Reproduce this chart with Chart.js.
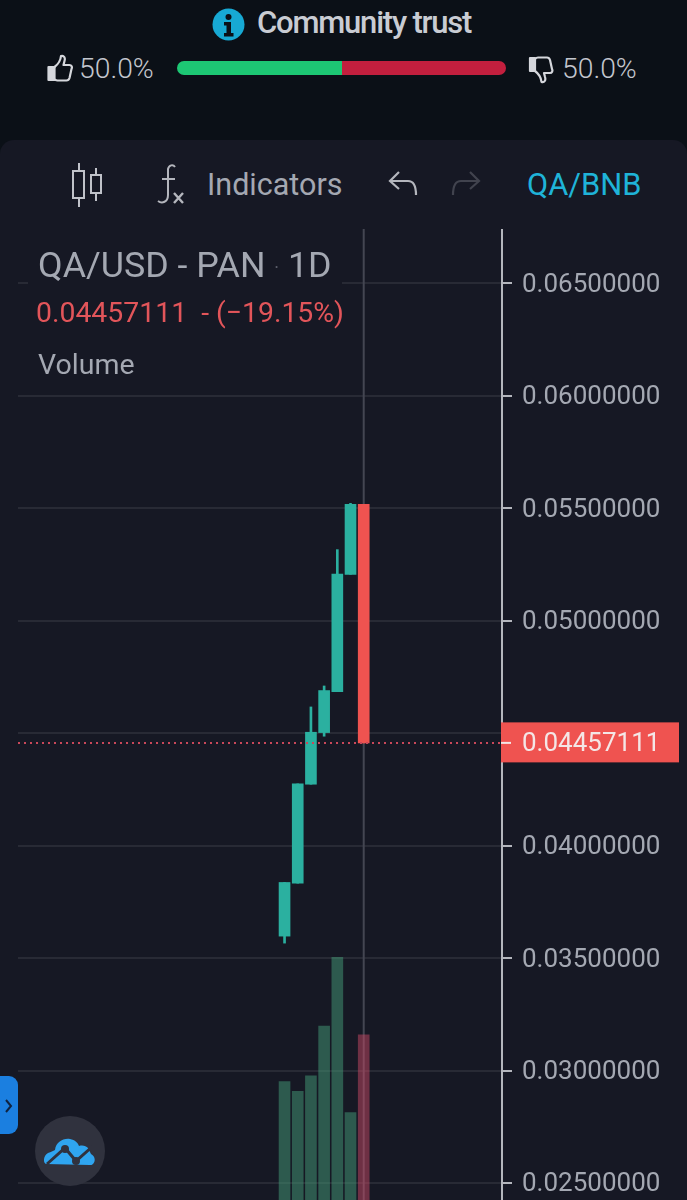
<!DOCTYPE html>
<html>
<head>
<meta charset="utf-8">
<title>QA/USD - PAN</title>
<script src="https://cdn.jsdelivr.net/npm/chart.js@4/dist/chart.umd.min.js"></script>
<style>
  html, body { margin: 0; padding: 0; background: #0b1017; }
  body { position: relative; width: 687px; height: 1200px; overflow: hidden; font-family: Roboto, sans-serif; }
  .abs { position: absolute; white-space: nowrap; }
  .pct { font-size: 28.3px; font-weight: 300; color: #c4c7ce; line-height: 30px; }
  #panel { left: 0; top: 140px; width: 687px; height: 1060px; background: #161824; border-radius: 14px 14px 0 0; }
  #wrap { left: 0; top: 229px; width: 687px; height: 971px; }
  #tv-title { left: 28px; top: 246px; padding: 0 10px; height: 38px; line-height: 38px; font-size: 35.800px; color: #a4a8b2; background: #161824; }
  #tv-price { left: 36px; top: 297px; font-size: 28.400px; line-height: 32px; color: #e2555a; }
  #tv-vol { left: 38px; top: 349px; font-size: 28.500px; line-height: 32px; color: #a4a8b2; }
</style>
</head>
<body>
<div class="abs" id="panel"></div>
<div class="abs" id="wrap"><canvas id="cv"></canvas></div>

<!-- Community trust -->
<svg class="abs" style="left:212px;top:8px" width="33" height="33" viewBox="0 0 33 33">
  <circle cx="16.5" cy="16.5" r="16" fill="#17a9d4"/>
  <circle cx="16.5" cy="9" r="3" fill="#0b1017"/>
  <path d="M12 14h7v11h2.5v3.5h-9.500V25h2.500v-7.500H12z" fill="#0b1017"/>
</svg>
<div class="abs" style="left:257px;top:4px;font-size:31px;line-height:38px;font-weight:500;letter-spacing:-1.2px;color:#c9ccd3">Community trust</div>

<svg class="abs" style="left:47px;top:54px" width="27" height="28" viewBox="0 0 27 28" fill="none" stroke="#d5d7dc" stroke-width="2.200" stroke-linejoin="round">
  <path d="M1.500 13h6v13h-6z" fill="#d5d7dc"/>
  <path d="M7.500 13c4-3 6-6 6.500-11 3-1 4.500 2 3.500 5l-1 4h6c2 0 3 2 2 4l-2 9c-.5 1.500-1.500 2.500-3 2.500h-9c-1.500 0-2-.5-3-1"/>
</svg>
<div class="abs pct" style="left:79px;top:54px">50.0%</div>
<div class="abs" style="left:177px;top:61px;width:165px;height:14px;background:#1dc774;border-radius:7px 0 0 7px"></div>
<div class="abs" style="left:342px;top:61px;width:164px;height:14px;background:#c31f3e;border-radius:0 7px 7px 0"></div>
<svg class="abs" style="left:528px;top:56px" width="27" height="28" viewBox="0 0 27 28" fill="none" stroke="#d5d7dc" stroke-width="2.200" stroke-linejoin="round">
  <path d="M2 2h5v13H2z" fill="#d5d7dc"/>
  <path d="M7 3c1-1 2-1.500 3-1.500h9c1.500 0 2.500 1 3 2.500l2 9c1 2 0 4-2 4h-6l1 4c1 3-.5 6-3.500 5-.5-5-2.500-8-6.500-11"/>
</svg>
<div class="abs pct" style="left:562px;top:54px">50.0%</div>

<!-- toolbar -->
<svg class="abs" style="left:70px;top:162px" width="34" height="46" viewBox="0 0 34 46" fill="none" stroke="#c0c2c9" stroke-width="2">
  <path d="M9 1v8M9 36v9M26 6v7M26 31v8"/>
  <rect x="3" y="9" width="11" height="27"/>
  <rect x="21" y="13" width="10" height="18"/>
</svg>
<svg class="abs" style="left:155px;top:162px" width="34" height="46" viewBox="0 0 34 46" fill="none" stroke="#b4b6bd" stroke-width="2">
  <path d="M20 5c-2-3-6-2-7 2v26c0 7-6 9-10 6M7 17h13"/>
  <path d="M19 31l9 10M28 31l-9 10" stroke-width="2.400"/>
</svg>
<div class="abs" style="left:207px;top:167px;font-size:30.500px;line-height:36px;color:#a4a8b2">Indicators</div>
<svg class="abs" style="left:387px;top:170px" width="34" height="28" viewBox="0 0 34 28" fill="none" stroke="#b4b6bd" stroke-width="2.200">
  <path d="M12 2L3 11l9 8M3 11h18c5 0 8 4 8 14"/>
</svg>
<svg class="abs" style="left:448px;top:170px" width="34" height="28" viewBox="0 0 34 28" fill="none" stroke="#41434e" stroke-width="2.200">
  <path d="M22 2l9 9-9 8M31 11H13c-5 0-8 4-8 14"/>
</svg>
<div class="abs" style="left:527px;top:167px;font-size:30.800px;line-height:36px;color:#1fb3d8">QA/BNB</div>

<!-- legend -->
<div class="abs" id="tv-title">QA/USD - PAN <span style="font-size:18px;position:relative;top:-3px;color:#5c5f6b">·</span> 1D</div>
<div class="abs" id="tv-price">0.04457111 &nbsp;- (−19.15%)</div>
<div class="abs" id="tv-vol">Volume</div>

<!-- side tab + logo -->
<div class="abs" style="left:0;top:1076px;width:18px;height:58px;background:#1b7fe0;border-radius:0 9px 9px 0"></div>
<svg class="abs" style="left:3px;top:1098px" width="10" height="16" viewBox="0 0 10 16" fill="none" stroke="#10233f" stroke-width="2"><path d="M3 2l5 6-5 6"/></svg>
<svg class="abs" style="left:34px;top:1115px" width="72" height="72" viewBox="0 0 72 72">
  <circle cx="36" cy="36" r="35" fill="#30323e"/>
  <path d="M12 49c-3-1-3-8 2-11 3-1 5-2 7-3 1-8 8-12 15-11 5 1 8 4 9 7 4-1 7 0 9 2l3 6c4 2 5 7 2 10-1 1-2 1-3 1z" fill="#2fa5f0"/>
  <path d="M13 49l18-16 11 13 17-15" fill="none" stroke="#30323e" stroke-width="3"/>
  <circle cx="31" cy="34" r="4" fill="#30323e"/>
  <circle cx="42" cy="46" r="4" fill="#30323e"/>
</svg>

<script>
// one entry per daily candle
const days = [0, 1, 2, 3, 4, 5, 6];
const opens  = [0.035978, 0.038333, 0.042733, 0.045030, 0.046853, 0.052067, 0.055178];
const closes = [0.038364, 0.042747, 0.045044, 0.046898, 0.052080, 0.055178, 0.04457111];
const highs  = [0.038364, 0.042747, 0.046169, 0.047102, 0.053164, 0.055222, 0.055178];
const lows   = [0.035667, 0.038333, 0.042733, 0.044867, 0.046853, 0.052067, 0.04457111];
const volumes = [122, 112, 128, 179, 250, 90, 170];
const priceTicks = [0.065, 0.06, 0.055, 0.05, 0.045, 0.04, 0.035, 0.03, 0.025];
const lastPrice = 0.04457111;

const UP = '#2bb0a0', DOWN = '#ef5350';
const UP_VOL = 'rgba(68,156,120,.5)', DOWN_VOL = 'rgba(198,72,100,.5)';

const isUp = i => closes[i] >= opens[i];
const candleColor = days.map((_, i) => isUp(i) ? UP : DOWN);

// crosshair, price labels and last price tag, drawn from the scales
const overlay = {
  id: 'overlay',
  beforeDatasetsDraw(chart) {
    const { ctx, chartArea: a, scales } = chart;
    const x = scales.x.getPixelForValue(days[days.length - 1]);
    ctx.save();
    ctx.strokeStyle = '#444652';
    ctx.lineWidth = 2;
    ctx.beginPath();
    ctx.moveTo(x, a.top);
    ctx.lineTo(x, a.bottom);
    ctx.stroke();
    ctx.restore();
  },
  afterDraw(chart) {
    const { ctx, chartArea: a, scales } = chart;
    const y = scales.y.getPixelForValue(lastPrice);
    ctx.save();
    ctx.font = '26px Roboto';
    ctx.textBaseline = 'middle';
    // built-in labels sit 2px too high for this font, so they are placed here
    ctx.fillStyle = '#a4a8b2';
    priceTicks.forEach(v => {
      // the last price tag takes the place of the nearest tick label
      if (Math.abs(v - lastPrice) < 0.001) return;
      ctx.fillText(v.toFixed(8), a.right + 20, scales.y.getPixelForValue(v) + 2);
    });
    ctx.fillStyle = DOWN;
    ctx.fillRect(a.right - 1, y - 20.5, 178, 40);
    ctx.fillStyle = '#f4e6e6';
    ctx.fillRect(a.right - 1, y - 1, 10, 2);
    ctx.fillText(lastPrice.toFixed(8), a.right + 20, y + 1.5);
    ctx.restore();
  },
};

new Chart(document.getElementById('cv'), {
  type: 'bar',
  data: {
    datasets: [
      { // volume sits behind the candles
        label: 'Volume',
        data: days.map((d, i) => ({ x: d, y: volumes[i] })),
        backgroundColor: candleColor.map(c => c === UP ? UP_VOL : DOWN_VOL),
        barThickness: 11, yAxisID: 'vol', order: 5, grouped: false,
      },
      {
        label: 'Wick',
        data: days.map((d, i) => ({ x: d, y: [lows[i], highs[i]] })),
        backgroundColor: candleColor,
        barThickness: 2, yAxisID: 'y', order: 3, grouped: false,
      },
      {
        label: 'Body',
        data: days.map((d, i) => ({ x: d, y: [opens[i], closes[i]] })),
        backgroundColor: candleColor,
        barThickness: 11, yAxisID: 'y', order: 2, grouped: false,
      },
      {
        type: 'line',
        label: 'Last',
        data: [{ x: -20.2, y: lastPrice }, { x: 16.48, y: lastPrice }],
        borderColor: '#c9485a',
        borderWidth: 2,
        borderDash: [2, 4],
        pointRadius: 0,
        yAxisID: 'y', order: 1,
      },
    ],
  },
  options: {
    responsive: true, maintainAspectRatio: false, animation: false,
    layout: { padding: { left: 18, right: 0, top: 0, bottom: 0 } },
    plugins: { legend: { display: false }, tooltip: { enabled: false } },
    scales: {
      x: {
        type: 'linear', display: false, offset: false,
        min: -20.2, max: 16.48,
      },
      y: {
        position: 'right',
        min: 0.024244, max: 0.067422,
        afterBuildTicks: s => { s.ticks = priceTicks.map(value => ({ value })); },
        afterFit: s => { s.width = 185; s.paddingTop = 0; s.paddingBottom = 0; },
        border: { color: '#b4b6bd', width: 2 },
        grid: { color: '#282a35', lineWidth: 2, tickLength: 10, tickColor: '#b4b6bd', tickWidth: 2 },
        ticks: { display: false },
      },
      vol: { display: false, min: 0, max: 1000 },
    },
  },
  plugins: [overlay],
});
</script>
</body>
</html>
